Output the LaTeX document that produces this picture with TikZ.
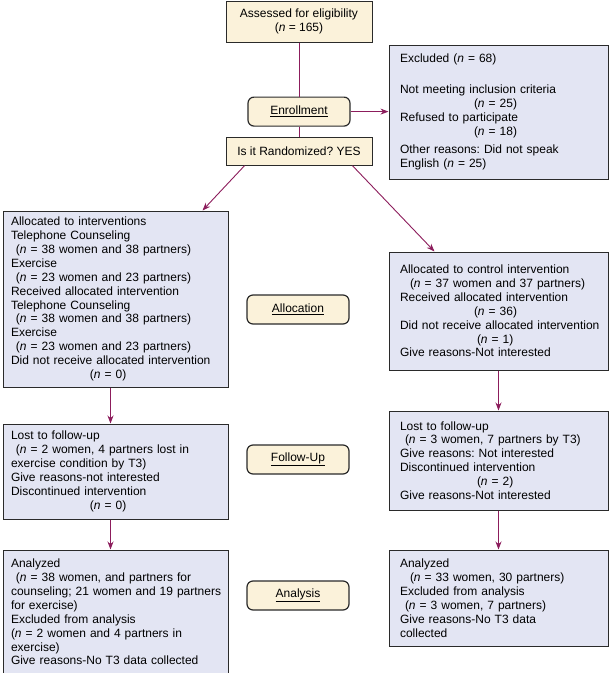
\documentclass[tikz,border=0pt]{standalone}
\usepackage{fontspec}
\setmainfont{Liberation Sans}
\usetikzlibrary{positioning,arrows.meta}
\definecolor{cream}{HTML}{FBF2DA}
\definecolor{lavender}{HTML}{E3E5F3}
\definecolor{plum}{HTML}{8C1D5C}
\definecolor{edge}{HTML}{2A2A2A}
\newcommand{\nn}{\textit{n}}
\frenchspacing

\begin{document}
\begin{tikzpicture}[x=1pt,y=-1pt,
    font=\fontsize{12}{13.9}\selectfont,
    stage/.style={draw=edge,fill=cream,line width=1pt,minimum width=146pt,
                  align=center,inner sep=2pt},
    phase/.style={draw=edge,fill=cream,line width=1.2pt,rounded corners=6pt,
                  minimum width=102pt,minimum height=29pt,inner sep=2pt},
    infoL/.style={draw=edge,fill=lavender,line width=1pt,align=left,
                  inner xsep=8pt,inner ysep=2pt,text width=209pt,
                  execute at begin node={\rightskip=0pt plus 2em minus 10pt
                                         \hyphenpenalty=10000\relax}},
    infoR/.style={infoL,inner xsep=11pt,text width=197pt},
    link/.style={draw=plum,line width=0.9pt},
    arrow/.style={link,-{Stealth[length=8pt,width=6pt]}}]
  \useasboundingbox (0,0) rectangle (609,673);

  % enrollment
  \node[stage, minimum height=41pt] (assess) at (299,21.5)
    {Assessed for eligibility\\(\nn{} = 165)};
  \node[phase, below=54pt of assess] (enroll) {\underline{Enrollment}};
  \node[stage, minimum height=28pt, below=10pt of enroll] (random)
    {Is it Randomized? YES};
  \node[infoR, minimum height=134pt] (excl) at (498.5,112)
    {Excluded (\nn{} = 68)\\[17pt]
     Not meeting inclusion criteria\\
     \hspace*{74pt}(\nn{} = 25)\\
     Refused to participate\\
     \hspace*{74pt}(\nn{} = 18)\\[5pt]
     Other reasons: Did not speak\\
     English (\nn{} = 25)};

  \draw[link] (assess) -- (enroll);
  \draw[link] (enroll) -- (random);
  \draw[arrow] (enroll.east) -- (enroll.east -| excl.west);

  % allocation
  \node[infoL, minimum height=176pt] (allocL) at (115.5,299)
    {Allocated to interventions\\
     Telephone Counseling\\
     \hspace*{5pt}(\nn{} = 38 women and 38 partners)\\
     Exercise\\
     \hspace*{5pt}(\nn{} = 23 women and 23 partners)\\
     Received allocated intervention\\
     Telephone Counseling\\
     \hspace*{5pt}(\nn{} = 38 women and 38 partners)\\
     Exercise\\
     \hspace*{5pt}(\nn{} = 23 women and 23 partners)\\
     Did not receive allocated intervention\\
     \hspace*{79pt}(\nn{} = 0)};
  \node[infoR, minimum height=118pt] (allocR) at (498.5,311)
    {Allocated to control intervention\\
     \hspace*{10pt}(\nn{} = 37 women and 37 partners)\\
     Received allocated intervention\\
     \hspace*{74pt}(\nn{} = 36)\\
     Did not receive allocated intervention\\
     \hspace*{77pt}(\nn{} = 1)\\
     Give reasons-Not interested};
  \node[phase] (allocation) at (298,309.5) {\underline{Allocation}};

  \draw[arrow] ([xshift=19pt]random.south west) -- ([xshift=-26pt]allocL.north east);
  \draw[arrow] ([xshift=-20pt]random.south east) -- ([xshift=46pt]allocR.north west);

  % follow-up
  \node[infoL, minimum height=95pt, below=36pt of allocL] (fuL)
    {Lost to follow-up\\
     \hspace*{5pt}(\nn{} = 2 women, 4 partners lost in\\
     exercise condition by T3)\\
     Give reasons-not interested\\
     Discontinued intervention\\
     \hspace*{79pt}(\nn{} = 0)};
  \node[infoR, minimum height=99pt, below=40pt of allocR] (fuR)
    {Lost to follow-up\\
     \hspace*{5pt}(\nn{} = 3 women, 7 partners by T3)\\
     Give reasons: Not interested\\
     Discontinued intervention\\
     \hspace*{77pt}(\nn{} = 2)\\
     Give reasons-Not interested};
  \node[phase] (followup) at (298,459.5) {\underline{Follow-Up}};

  \draw[arrow] ([xshift=-5pt]allocL.south) -- ([xshift=-5pt]fuL.north);
  \draw[arrow] (allocR) -- (fuR);

  % analysis
  \node[infoL, minimum height=124pt, below=30pt of fuL] (anL)
    {Analyzed\\
     \hspace*{5pt}(\nn{} = 38 women, and partners for\\
     counseling; 21 women and 19 partners\\
     for exercise)\\
     Excluded from analysis\\
     (\nn{} = 2 women and 4 partners in\\
     exercise)\\
     Give reasons-No T3 data collected};
  \node[infoR, minimum height=96pt, below=39pt of fuR] (anR)
    {Analyzed\\
     \hspace*{10pt}(\nn{} = 33 women, 30 partners)\\
     Excluded from analysis\\
     \hspace*{5pt}(\nn{} = 3 women, 7 partners)\\
     Give reasons-No T3 data\\
     collected};
  \node[phase] (analysis) at (298,595.5) {\underline{Analysis}};

  \draw[arrow] ([xshift=-5pt]fuL.south) -- ([xshift=-5pt]anL.north);
  \draw[arrow] (fuR) -- (anR);
\end{tikzpicture}
\end{document}
